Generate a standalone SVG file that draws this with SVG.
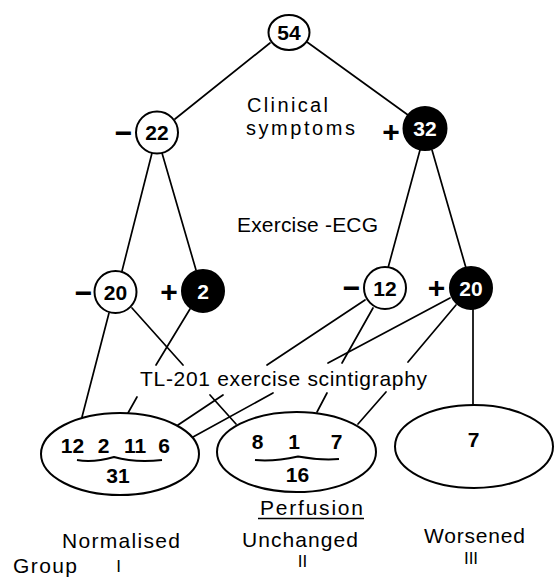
<svg xmlns="http://www.w3.org/2000/svg" width="554" height="577" viewBox="0 0 554 577">
<style>
.bg{fill:#fff}
.n{fill:#fff;stroke:#000;stroke-width:2}
.f{fill:#000;stroke:#000;stroke-width:2}
.num{font-family:"Liberation Sans",Arial,sans-serif;font-size:21px;font-weight:bold;text-anchor:middle;fill:#000}
.numw{font-family:"Liberation Sans",Arial,sans-serif;font-size:21px;font-weight:bold;text-anchor:middle;fill:#fff}
.sg{font-family:"Liberation Sans",Arial,sans-serif;font-size:30px;font-weight:bold;text-anchor:middle;fill:#000}
.lb{font-family:"Liberation Sans",Arial,sans-serif;font-size:21px;fill:#000}
.lbs{font-family:"Liberation Sans",Arial,sans-serif;font-size:20px;fill:#000}
.rn{font-family:"Liberation Sans",Arial,sans-serif;font-size:17px;text-anchor:middle;fill:#000}
.c line{stroke:#000;stroke-width:1.7;stroke-linecap:round}
.br{fill:none;stroke:#000;stroke-width:2}
</style>
<rect class="bg" x="0" y="0" width="554" height="577"/>
<g id="connectors" class="c">
<line x1="270" y1="43" x2="175" y2="119"/>
<line x1="307" y1="42" x2="408" y2="115"/>
<line x1="152" y1="153" x2="122" y2="271"/>
<line x1="162" y1="153" x2="196" y2="270"/>
<line x1="420" y1="150" x2="388" y2="268"/>
<line x1="432" y1="150" x2="466" y2="268"/>
<line x1="109" y1="313" x2="82" y2="417"/>
<line x1="132" y1="308" x2="183" y2="365"/>
<line x1="210" y1="395" x2="236" y2="424"/>
<line x1="190" y1="309" x2="156" y2="365"/>
<line x1="137" y1="397" x2="128" y2="413"/>
<line x1="365" y1="300" x2="267" y2="365"/>
<line x1="223" y1="395" x2="178" y2="425"/>
<line x1="373" y1="308" x2="342" y2="363"/>
<line x1="327" y1="393" x2="317" y2="412"/>
<line x1="450" y1="298" x2="328" y2="363"/>
<line x1="273" y1="393" x2="193" y2="437"/>
<line x1="456" y1="305" x2="408" y2="362"/>
<line x1="386" y1="392" x2="358" y2="424"/>
<line x1="473" y1="309" x2="473" y2="405"/>
</g>
<g id="n54"><ellipse class="n" cx="289" cy="32.5" rx="20.5" ry="17.5"/><text class="num" x="289" y="40">54</text></g>
<g id="n22"><text class="sg" x="123.5" y="143">−</text><circle class="n" cx="157" cy="132.5" r="21"/><text class="num" x="157" y="140">22</text></g>
<g id="n32"><text class="sg" x="391" y="142">+</text><circle class="f" cx="425" cy="128.5" r="21.5"/><text class="numw" x="425" y="136">32</text></g>
<g id="n20a"><text class="sg" x="83.5" y="303">−</text><circle class="n" cx="115.5" cy="292" r="21"/><text class="num" x="115.5" y="299.5">20</text></g>
<g id="n2"><text class="sg" x="169" y="302">+</text><circle class="f" cx="203" cy="291" r="21"/><text class="numw" x="203" y="298.5">2</text></g>
<g id="n12"><text class="sg" x="351.5" y="298">−</text><circle class="n" cx="385" cy="288" r="21"/><text class="num" x="385" y="295.5">12</text></g>
<g id="n20b"><text class="sg" x="436.5" y="298">+</text><circle class="f" cx="471" cy="288" r="21"/><text class="numw" x="471" y="295.5">20</text></g>
<g id="group1"><ellipse class="n" cx="120" cy="454" rx="79" ry="41"/>
<text class="num"><tspan x="72.5" y="453">12</tspan><tspan x="103.5" y="453">2</tspan><tspan x="135" y="453">11</tspan><tspan x="164" y="453">6</tspan></text>
<path class="br" d="M77,460 C88,462 100,461 114,457 C128,461 145,462 162,460"/>
<text class="num" x="118" y="483">31</text></g>
<g id="group2"><ellipse class="n" cx="296.5" cy="452" rx="79.5" ry="40"/>
<text class="num"><tspan x="257.5" y="449">8</tspan><tspan x="294" y="449">1</tspan><tspan x="336.5" y="449">7</tspan></text>
<path class="br" d="M255,460 C266,461 282,460 298,456.5 C312,459 326,460 339,459"/>
<text class="num" x="297.5" y="482">16</text></g>
<g id="group3"><ellipse class="n" cx="474" cy="446.5" rx="79" ry="41.5"/><text class="num" x="473.5" y="447">7</text></g>
<g id="labels">
<text class="lbs" x="247" y="112" textLength="81" lengthAdjust="spacing">Clinical</text>
<text class="lbs" x="246" y="135" textLength="109" lengthAdjust="spacing">symptoms</text>
<text class="lb" x="237" y="232" textLength="141" lengthAdjust="spacing">Exercise -ECG</text>
<text class="lb" x="140" y="386" textLength="287" lengthAdjust="spacing">TL-201 exercise scintigraphy</text>
<text class="lb" x="260" y="515" textLength="103" lengthAdjust="spacing">Perfusion</text>
<line x1="258" y1="518.5" x2="364" y2="518.5" stroke="#000" stroke-width="1.6"/>
<text class="lb" x="62" y="548" textLength="118" lengthAdjust="spacing">Normalised</text>
<text class="lb" x="242" y="547" textLength="116" lengthAdjust="spacing">Unchanged</text>
<text class="lb" x="424" y="543" textLength="101" lengthAdjust="spacing">Worsened</text>
<text class="lb" x="13" y="573" textLength="64" lengthAdjust="spacing">Group</text>
<text class="rn" x="118.5" y="572">I</text>
<text class="rn" x="302.5" y="567">II</text>
<text class="rn" x="471" y="564">III</text>
</g>
</svg>
